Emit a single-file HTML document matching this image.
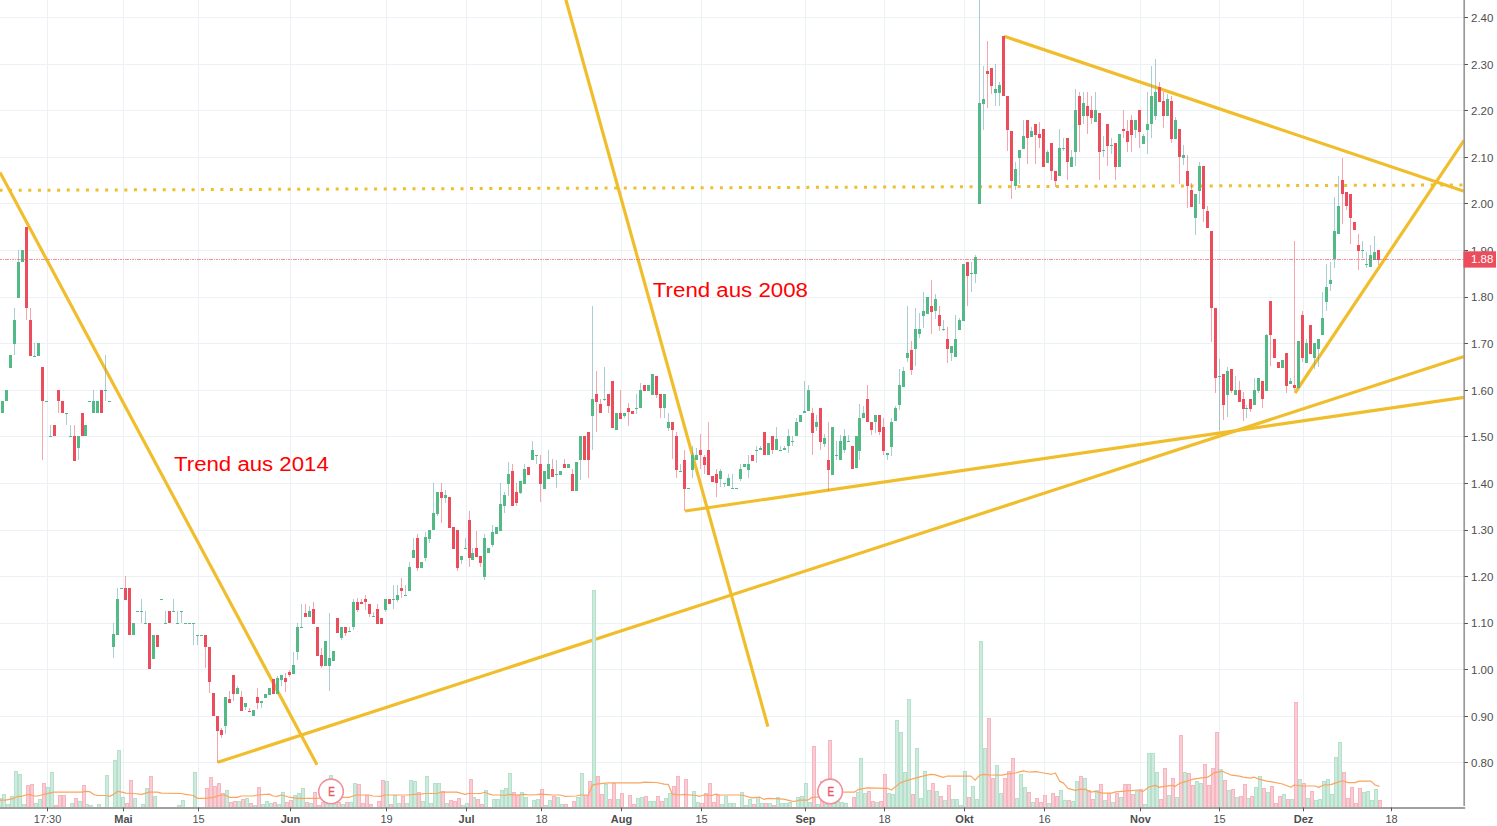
<!DOCTYPE html>
<html><head><meta charset="utf-8"><style>
html,body{margin:0;padding:0;background:#fff;width:1497px;height:826px;overflow:hidden}
svg{display:block}
.g{stroke:#ebf1f5;stroke-width:1}
text{font-family:"Liberation Sans",sans-serif}
.yl{font-size:11.5px;fill:#4e4e4e}
.xl{font-size:11px;fill:#4e4e4e}
.b{font-weight:bold}
.ann{font-size:20px;fill:#ff0000}
.em{font-size:12.8px;fill:#e85868;stroke:#e85868;stroke-width:0.45}
.pl{font-size:11.5px;fill:#fff}
</style></head><body>
<svg width="1497" height="826" viewBox="0 0 1497 826">
<defs><clipPath id="plot"><rect x="0" y="0" width="1464.4" height="807.5"/></clipPath></defs>
<line x1="47.5" y1="0" x2="47.5" y2="807.5" class="g"/>
<line x1="123.5" y1="0" x2="123.5" y2="807.5" class="g"/>
<line x1="198.5" y1="0" x2="198.5" y2="807.5" class="g"/>
<line x1="290.5" y1="0" x2="290.5" y2="807.5" class="g"/>
<line x1="386.5" y1="0" x2="386.5" y2="807.5" class="g"/>
<line x1="466.5" y1="0" x2="466.5" y2="807.5" class="g"/>
<line x1="541.5" y1="0" x2="541.5" y2="807.5" class="g"/>
<line x1="621.5" y1="0" x2="621.5" y2="807.5" class="g"/>
<line x1="701.5" y1="0" x2="701.5" y2="807.5" class="g"/>
<line x1="805.5" y1="0" x2="805.5" y2="807.5" class="g"/>
<line x1="884.5" y1="0" x2="884.5" y2="807.5" class="g"/>
<line x1="964.5" y1="0" x2="964.5" y2="807.5" class="g"/>
<line x1="1044.5" y1="0" x2="1044.5" y2="807.5" class="g"/>
<line x1="1140.5" y1="0" x2="1140.5" y2="807.5" class="g"/>
<line x1="1219.5" y1="0" x2="1219.5" y2="807.5" class="g"/>
<line x1="1303.5" y1="0" x2="1303.5" y2="807.5" class="g"/>
<line x1="1391.5" y1="0" x2="1391.5" y2="807.5" class="g"/>
<line x1="0" y1="762.5" x2="1464.4" y2="762.5" class="g"/>
<line x1="0" y1="716.5" x2="1464.4" y2="716.5" class="g"/>
<line x1="0" y1="669.5" x2="1464.4" y2="669.5" class="g"/>
<line x1="0" y1="623.5" x2="1464.4" y2="623.5" class="g"/>
<line x1="0" y1="576.5" x2="1464.4" y2="576.5" class="g"/>
<line x1="0" y1="530.5" x2="1464.4" y2="530.5" class="g"/>
<line x1="0" y1="483.5" x2="1464.4" y2="483.5" class="g"/>
<line x1="0" y1="436.5" x2="1464.4" y2="436.5" class="g"/>
<line x1="0" y1="390.5" x2="1464.4" y2="390.5" class="g"/>
<line x1="0" y1="343.5" x2="1464.4" y2="343.5" class="g"/>
<line x1="0" y1="297.5" x2="1464.4" y2="297.5" class="g"/>
<line x1="0" y1="250.5" x2="1464.4" y2="250.5" class="g"/>
<line x1="0" y1="203.5" x2="1464.4" y2="203.5" class="g"/>
<line x1="0" y1="157.5" x2="1464.4" y2="157.5" class="g"/>
<line x1="0" y1="110.5" x2="1464.4" y2="110.5" class="g"/>
<line x1="0" y1="64.5" x2="1464.4" y2="64.5" class="g"/>
<line x1="0" y1="17.5" x2="1464.4" y2="17.5" class="g"/>
<g clip-path="url(#plot)">
<line x1="0" y1="172.4" x2="317" y2="764.7" stroke="#f0be2c" stroke-width="3.2" stroke-linecap="butt"/>
<line x1="565.4" y1="-2" x2="767.9" y2="726.6" stroke="#f0be2c" stroke-width="3.2" stroke-linecap="butt"/>
<line x1="217.8" y1="762.3" x2="1464" y2="356.5" stroke="#f0be2c" stroke-width="3.2" stroke-linecap="butt"/>
<line x1="685.1" y1="511" x2="1464" y2="397.4" stroke="#f0be2c" stroke-width="3.2" stroke-linecap="butt"/>
<line x1="1004.2" y1="36.3" x2="1464" y2="191.2" stroke="#f0be2c" stroke-width="3.2" stroke-linecap="butt"/>
<line x1="1295" y1="393" x2="1464" y2="140.3" stroke="#f0be2c" stroke-width="3.2" stroke-linecap="butt"/>
<line x1="-0.5" y1="190.35" x2="1464" y2="184.95" stroke="#f0be2c" stroke-width="3" stroke-dasharray="3 6.605"/>
</g>
<g shape-rendering="crispEdges"><path fill="#cdeadc" d="M-2 798h4v9h-4zM2 794h4v13h-4zM6 804h4v3h-4zM10 796h4v11h-4zM14 771h4v36h-4zM18 774h4v33h-4zM22 804h4v3h-4zM34 803h4v4h-4zM38 799h4v8h-4zM46 787h4v20h-4zM50 772h4v35h-4zM70 803h4v4h-4zM78 801h4v6h-4zM85 804h4v3h-4zM89 805h4v2h-4zM97 804h4v3h-4zM105 775h4v32h-4zM113 760h4v47h-4zM117 750h4v57h-4zM121 797h4v10h-4zM133 798h4v9h-4zM141 804h4v3h-4zM145 788h4v19h-4zM153 796h4v11h-4zM177 805h4v2h-4zM181 800h4v7h-4zM193 772h4v35h-4zM225 790h4v17h-4zM237 801h4v6h-4zM245 798h4v9h-4zM253 805h4v2h-4zM261 804h4v3h-4zM265 801h4v6h-4zM269 803h4v4h-4zM277 804h4v3h-4zM281 792h4v15h-4zM293 795h4v12h-4zM297 793h4v14h-4zM301 788h4v19h-4zM309 803h4v4h-4zM325 804h4v3h-4zM329 775h4v32h-4zM333 804h4v3h-4zM341 804h4v3h-4zM349 802h4v5h-4zM353 783h4v24h-4zM385 781h4v26h-4zM393 795h4v12h-4zM397 803h4v4h-4zM405 803h4v4h-4zM409 780h4v27h-4zM413 781h4v26h-4zM421 801h4v6h-4zM425 776h4v31h-4zM429 803h4v4h-4zM433 783h4v24h-4zM437 783h4v24h-4zM445 803h4v4h-4zM461 805h4v2h-4zM465 803h4v4h-4zM472 797h4v10h-4zM484 790h4v17h-4zM492 799h4v8h-4zM496 799h4v8h-4zM500 790h4v17h-4zM504 788h4v19h-4zM508 773h4v34h-4zM520 792h4v15h-4zM524 797h4v10h-4zM532 800h4v7h-4zM536 799h4v8h-4zM544 805h4v2h-4zM548 800h4v7h-4zM556 797h4v10h-4zM560 804h4v3h-4zM576 797h4v10h-4zM580 773h4v34h-4zM592 590h4v217h-4zM604 784h4v23h-4zM616 799h4v8h-4zM636 798h4v9h-4zM640 797h4v10h-4zM648 801h4v6h-4zM652 801h4v6h-4zM664 798h4v9h-4zM668 793h4v14h-4zM692 791h4v16h-4zM696 802h4v5h-4zM720 804h4v3h-4zM724 796h4v11h-4zM728 803h4v4h-4zM732 803h4v4h-4zM740 792h4v15h-4zM744 805h4v2h-4zM748 799h4v8h-4zM756 797h4v10h-4zM760 803h4v4h-4zM768 803h4v4h-4zM776 797h4v10h-4zM780 803h4v4h-4zM784 803h4v4h-4zM788 802h4v5h-4zM796 797h4v10h-4zM800 796h4v11h-4zM804 783h4v24h-4zM808 802h4v5h-4zM816 804h4v3h-4zM824 804h4v3h-4zM832 803h4v4h-4zM836 801h4v6h-4zM840 802h4v5h-4zM844 803h4v4h-4zM856 792h4v15h-4zM859 758h4v49h-4zM863 793h4v14h-4zM875 802h4v5h-4zM887 793h4v14h-4zM891 794h4v13h-4zM895 720h4v87h-4zM899 732h4v75h-4zM903 772h4v35h-4zM907 699h4v108h-4zM915 748h4v59h-4zM919 798h4v9h-4zM923 771h4v36h-4zM927 790h4v17h-4zM935 791h4v16h-4zM943 800h4v7h-4zM951 799h4v8h-4zM955 799h4v8h-4zM959 805h4v2h-4zM963 771h4v36h-4zM971 786h4v21h-4zM975 799h4v8h-4zM979 641h4v166h-4zM983 748h4v59h-4zM995 765h4v42h-4zM999 793h4v14h-4zM1015 798h4v9h-4zM1019 774h4v33h-4zM1023 787h4v20h-4zM1031 802h4v5h-4zM1047 803h4v4h-4zM1059 790h4v17h-4zM1063 800h4v7h-4zM1071 801h4v6h-4zM1075 781h4v26h-4zM1083 778h4v29h-4zM1095 790h4v17h-4zM1103 800h4v7h-4zM1111 802h4v5h-4zM1119 797h4v10h-4zM1135 791h4v16h-4zM1143 804h4v3h-4zM1147 753h4v54h-4zM1151 753h4v54h-4zM1155 772h4v35h-4zM1167 795h4v12h-4zM1175 797h4v10h-4zM1183 772h4v35h-4zM1195 781h4v26h-4zM1199 783h4v24h-4zM1219 769h4v38h-4zM1227 790h4v17h-4zM1235 797h4v10h-4zM1246 798h4v9h-4zM1254 787h4v20h-4zM1258 776h4v31h-4zM1266 792h4v15h-4zM1282 794h4v13h-4zM1290 799h4v8h-4zM1298 779h4v28h-4zM1306 798h4v9h-4zM1314 800h4v7h-4zM1318 799h4v8h-4zM1322 781h4v26h-4zM1326 779h4v28h-4zM1330 794h4v13h-4zM1334 757h4v50h-4zM1338 742h4v65h-4zM1362 792h4v15h-4zM1366 791h4v16h-4zM1370 800h4v7h-4zM1374 789h4v18h-4z"/><path fill="#f9cdd3" d="M26 785h4v22h-4zM30 784h4v23h-4zM42 783h4v24h-4zM54 805h4v2h-4zM58 795h4v12h-4zM62 795h4v12h-4zM74 798h4v9h-4zM82 785h4v22h-4zM125 803h4v4h-4zM129 780h4v27h-4zM149 776h4v31h-4zM205 788h4v19h-4zM209 777h4v30h-4zM213 786h4v21h-4zM217 783h4v24h-4zM221 793h4v14h-4zM229 802h4v5h-4zM233 801h4v6h-4zM241 799h4v8h-4zM249 803h4v4h-4zM257 787h4v20h-4zM273 802h4v5h-4zM285 802h4v5h-4zM289 800h4v7h-4zM305 802h4v5h-4zM313 792h4v15h-4zM317 805h4v2h-4zM321 802h4v5h-4zM337 802h4v5h-4zM345 802h4v5h-4zM357 784h4v23h-4zM361 803h4v4h-4zM365 795h4v12h-4zM369 804h4v3h-4zM377 801h4v6h-4zM381 780h4v27h-4zM389 804h4v3h-4zM401 796h4v11h-4zM417 792h4v15h-4zM441 791h4v16h-4zM449 800h4v7h-4zM453 801h4v6h-4zM457 798h4v9h-4zM469 779h4v28h-4zM476 799h4v8h-4zM480 804h4v3h-4zM512 792h4v15h-4zM516 795h4v12h-4zM540 789h4v18h-4zM552 796h4v11h-4zM564 804h4v3h-4zM572 801h4v6h-4zM584 795h4v12h-4zM588 781h4v26h-4zM596 776h4v31h-4zM600 794h4v13h-4zM608 799h4v8h-4zM612 783h4v24h-4zM620 793h4v14h-4zM628 795h4v12h-4zM632 804h4v3h-4zM644 796h4v11h-4zM656 796h4v11h-4zM660 801h4v6h-4zM672 786h4v21h-4zM676 776h4v31h-4zM684 779h4v28h-4zM700 803h4v4h-4zM704 793h4v14h-4zM708 783h4v24h-4zM712 802h4v5h-4zM716 795h4v12h-4zM752 804h4v3h-4zM764 803h4v4h-4zM772 805h4v2h-4zM812 746h4v61h-4zM820 781h4v26h-4zM828 740h4v67h-4zM852 797h4v10h-4zM867 791h4v16h-4zM871 801h4v6h-4zM879 801h4v6h-4zM883 774h4v33h-4zM911 794h4v13h-4zM931 783h4v24h-4zM939 796h4v11h-4zM947 785h4v22h-4zM967 797h4v10h-4zM987 718h4v89h-4zM991 778h4v29h-4zM1003 778h4v29h-4zM1007 771h4v36h-4zM1011 758h4v49h-4zM1027 792h4v15h-4zM1035 798h4v9h-4zM1039 802h4v5h-4zM1043 795h4v12h-4zM1051 793h4v14h-4zM1055 796h4v11h-4zM1067 800h4v7h-4zM1079 776h4v31h-4zM1087 790h4v17h-4zM1091 799h4v8h-4zM1099 784h4v23h-4zM1107 793h4v14h-4zM1115 793h4v14h-4zM1123 784h4v23h-4zM1127 784h4v23h-4zM1131 794h4v13h-4zM1139 789h4v18h-4zM1159 799h4v8h-4zM1163 768h4v39h-4zM1171 778h4v29h-4zM1179 735h4v72h-4zM1187 773h4v34h-4zM1191 785h4v22h-4zM1203 764h4v43h-4zM1207 785h4v22h-4zM1211 768h4v39h-4zM1215 732h4v75h-4zM1223 780h4v27h-4zM1231 789h4v18h-4zM1239 796h4v11h-4zM1243 784h4v23h-4zM1250 796h4v11h-4zM1262 788h4v19h-4zM1270 786h4v21h-4zM1274 803h4v4h-4zM1278 796h4v11h-4zM1286 799h4v8h-4zM1294 702h4v105h-4zM1302 783h4v24h-4zM1310 791h4v16h-4zM1342 772h4v35h-4zM1346 798h4v9h-4zM1350 787h4v20h-4zM1354 803h4v4h-4zM1358 788h4v19h-4zM1378 800h4v7h-4z"/><path fill="#b5e0cb" d="M-2 798h4v1h-4z M-2 799h1v8h-1z M1 799h1v8h-1zM2 794h4v1h-4z M2 795h1v12h-1z M5 795h1v12h-1zM6 804h4v1h-4z M6 805h1v2h-1z M9 805h1v2h-1zM10 796h4v1h-4z M10 797h1v10h-1z M13 797h1v10h-1zM14 771h4v1h-4z M14 772h1v35h-1z M17 772h1v35h-1zM18 774h4v1h-4z M18 775h1v32h-1z M21 775h1v32h-1zM22 804h4v1h-4z M22 805h1v2h-1z M25 805h1v2h-1zM34 803h4v1h-4z M34 804h1v3h-1z M37 804h1v3h-1zM38 799h4v1h-4z M38 800h1v7h-1z M41 800h1v7h-1zM46 787h4v1h-4z M46 788h1v19h-1z M49 788h1v19h-1zM50 772h4v1h-4z M50 773h1v34h-1z M53 773h1v34h-1zM70 803h4v1h-4z M70 804h1v3h-1z M73 804h1v3h-1zM78 801h4v1h-4z M78 802h1v5h-1z M81 802h1v5h-1zM85 804h4v1h-4z M85 805h1v2h-1z M88 805h1v2h-1zM89 805h4v1h-4z M89 806h1v1h-1z M92 806h1v1h-1zM97 804h4v1h-4z M97 805h1v2h-1z M100 805h1v2h-1zM105 775h4v1h-4z M105 776h1v31h-1z M108 776h1v31h-1zM113 760h4v1h-4z M113 761h1v46h-1z M116 761h1v46h-1zM117 750h4v1h-4z M117 751h1v56h-1z M120 751h1v56h-1zM121 797h4v1h-4z M121 798h1v9h-1z M124 798h1v9h-1zM133 798h4v1h-4z M133 799h1v8h-1z M136 799h1v8h-1zM141 804h4v1h-4z M141 805h1v2h-1z M144 805h1v2h-1zM145 788h4v1h-4z M145 789h1v18h-1z M148 789h1v18h-1zM153 796h4v1h-4z M153 797h1v10h-1z M156 797h1v10h-1zM177 805h4v1h-4z M177 806h1v1h-1z M180 806h1v1h-1zM181 800h4v1h-4z M181 801h1v6h-1z M184 801h1v6h-1zM193 772h4v1h-4z M193 773h1v34h-1z M196 773h1v34h-1zM225 790h4v1h-4z M225 791h1v16h-1z M228 791h1v16h-1zM237 801h4v1h-4z M237 802h1v5h-1z M240 802h1v5h-1zM245 798h4v1h-4z M245 799h1v8h-1z M248 799h1v8h-1zM253 805h4v1h-4z M253 806h1v1h-1z M256 806h1v1h-1zM261 804h4v1h-4z M261 805h1v2h-1z M264 805h1v2h-1zM265 801h4v1h-4z M265 802h1v5h-1z M268 802h1v5h-1zM269 803h4v1h-4z M269 804h1v3h-1z M272 804h1v3h-1zM277 804h4v1h-4z M277 805h1v2h-1z M280 805h1v2h-1zM281 792h4v1h-4z M281 793h1v14h-1z M284 793h1v14h-1zM293 795h4v1h-4z M293 796h1v11h-1z M296 796h1v11h-1zM297 793h4v1h-4z M297 794h1v13h-1z M300 794h1v13h-1zM301 788h4v1h-4z M301 789h1v18h-1z M304 789h1v18h-1zM309 803h4v1h-4z M309 804h1v3h-1z M312 804h1v3h-1zM325 804h4v1h-4z M325 805h1v2h-1z M328 805h1v2h-1zM329 775h4v1h-4z M329 776h1v31h-1z M332 776h1v31h-1zM333 804h4v1h-4z M333 805h1v2h-1z M336 805h1v2h-1zM341 804h4v1h-4z M341 805h1v2h-1z M344 805h1v2h-1zM349 802h4v1h-4z M349 803h1v4h-1z M352 803h1v4h-1zM353 783h4v1h-4z M353 784h1v23h-1z M356 784h1v23h-1zM385 781h4v1h-4z M385 782h1v25h-1z M388 782h1v25h-1zM393 795h4v1h-4z M393 796h1v11h-1z M396 796h1v11h-1zM397 803h4v1h-4z M397 804h1v3h-1z M400 804h1v3h-1zM405 803h4v1h-4z M405 804h1v3h-1z M408 804h1v3h-1zM409 780h4v1h-4z M409 781h1v26h-1z M412 781h1v26h-1zM413 781h4v1h-4z M413 782h1v25h-1z M416 782h1v25h-1zM421 801h4v1h-4z M421 802h1v5h-1z M424 802h1v5h-1zM425 776h4v1h-4z M425 777h1v30h-1z M428 777h1v30h-1zM429 803h4v1h-4z M429 804h1v3h-1z M432 804h1v3h-1zM433 783h4v1h-4z M433 784h1v23h-1z M436 784h1v23h-1zM437 783h4v1h-4z M437 784h1v23h-1z M440 784h1v23h-1zM445 803h4v1h-4z M445 804h1v3h-1z M448 804h1v3h-1zM461 805h4v1h-4z M461 806h1v1h-1z M464 806h1v1h-1zM465 803h4v1h-4z M465 804h1v3h-1z M468 804h1v3h-1zM472 797h4v1h-4z M472 798h1v9h-1z M475 798h1v9h-1zM484 790h4v1h-4z M484 791h1v16h-1z M487 791h1v16h-1zM492 799h4v1h-4z M492 800h1v7h-1z M495 800h1v7h-1zM496 799h4v1h-4z M496 800h1v7h-1z M499 800h1v7h-1zM500 790h4v1h-4z M500 791h1v16h-1z M503 791h1v16h-1zM504 788h4v1h-4z M504 789h1v18h-1z M507 789h1v18h-1zM508 773h4v1h-4z M508 774h1v33h-1z M511 774h1v33h-1zM520 792h4v1h-4z M520 793h1v14h-1z M523 793h1v14h-1zM524 797h4v1h-4z M524 798h1v9h-1z M527 798h1v9h-1zM532 800h4v1h-4z M532 801h1v6h-1z M535 801h1v6h-1zM536 799h4v1h-4z M536 800h1v7h-1z M539 800h1v7h-1zM544 805h4v1h-4z M544 806h1v1h-1z M547 806h1v1h-1zM548 800h4v1h-4z M548 801h1v6h-1z M551 801h1v6h-1zM556 797h4v1h-4z M556 798h1v9h-1z M559 798h1v9h-1zM560 804h4v1h-4z M560 805h1v2h-1z M563 805h1v2h-1zM576 797h4v1h-4z M576 798h1v9h-1z M579 798h1v9h-1zM580 773h4v1h-4z M580 774h1v33h-1z M583 774h1v33h-1zM592 590h4v1h-4z M592 591h1v216h-1z M595 591h1v216h-1zM604 784h4v1h-4z M604 785h1v22h-1z M607 785h1v22h-1zM616 799h4v1h-4z M616 800h1v7h-1z M619 800h1v7h-1zM636 798h4v1h-4z M636 799h1v8h-1z M639 799h1v8h-1zM640 797h4v1h-4z M640 798h1v9h-1z M643 798h1v9h-1zM648 801h4v1h-4z M648 802h1v5h-1z M651 802h1v5h-1zM652 801h4v1h-4z M652 802h1v5h-1z M655 802h1v5h-1zM664 798h4v1h-4z M664 799h1v8h-1z M667 799h1v8h-1zM668 793h4v1h-4z M668 794h1v13h-1z M671 794h1v13h-1zM692 791h4v1h-4z M692 792h1v15h-1z M695 792h1v15h-1zM696 802h4v1h-4z M696 803h1v4h-1z M699 803h1v4h-1zM720 804h4v1h-4z M720 805h1v2h-1z M723 805h1v2h-1zM724 796h4v1h-4z M724 797h1v10h-1z M727 797h1v10h-1zM728 803h4v1h-4z M728 804h1v3h-1z M731 804h1v3h-1zM732 803h4v1h-4z M732 804h1v3h-1z M735 804h1v3h-1zM740 792h4v1h-4z M740 793h1v14h-1z M743 793h1v14h-1zM744 805h4v1h-4z M744 806h1v1h-1z M747 806h1v1h-1zM748 799h4v1h-4z M748 800h1v7h-1z M751 800h1v7h-1zM756 797h4v1h-4z M756 798h1v9h-1z M759 798h1v9h-1zM760 803h4v1h-4z M760 804h1v3h-1z M763 804h1v3h-1zM768 803h4v1h-4z M768 804h1v3h-1z M771 804h1v3h-1zM776 797h4v1h-4z M776 798h1v9h-1z M779 798h1v9h-1zM780 803h4v1h-4z M780 804h1v3h-1z M783 804h1v3h-1zM784 803h4v1h-4z M784 804h1v3h-1z M787 804h1v3h-1zM788 802h4v1h-4z M788 803h1v4h-1z M791 803h1v4h-1zM796 797h4v1h-4z M796 798h1v9h-1z M799 798h1v9h-1zM800 796h4v1h-4z M800 797h1v10h-1z M803 797h1v10h-1zM804 783h4v1h-4z M804 784h1v23h-1z M807 784h1v23h-1zM808 802h4v1h-4z M808 803h1v4h-1z M811 803h1v4h-1zM816 804h4v1h-4z M816 805h1v2h-1z M819 805h1v2h-1zM824 804h4v1h-4z M824 805h1v2h-1z M827 805h1v2h-1zM832 803h4v1h-4z M832 804h1v3h-1z M835 804h1v3h-1zM836 801h4v1h-4z M836 802h1v5h-1z M839 802h1v5h-1zM840 802h4v1h-4z M840 803h1v4h-1z M843 803h1v4h-1zM844 803h4v1h-4z M844 804h1v3h-1z M847 804h1v3h-1zM856 792h4v1h-4z M856 793h1v14h-1z M859 793h1v14h-1zM859 758h4v1h-4z M859 759h1v48h-1z M862 759h1v48h-1zM863 793h4v1h-4z M863 794h1v13h-1z M866 794h1v13h-1zM875 802h4v1h-4z M875 803h1v4h-1z M878 803h1v4h-1zM887 793h4v1h-4z M887 794h1v13h-1z M890 794h1v13h-1zM891 794h4v1h-4z M891 795h1v12h-1z M894 795h1v12h-1zM895 720h4v1h-4z M895 721h1v86h-1z M898 721h1v86h-1zM899 732h4v1h-4z M899 733h1v74h-1z M902 733h1v74h-1zM903 772h4v1h-4z M903 773h1v34h-1z M906 773h1v34h-1zM907 699h4v1h-4z M907 700h1v107h-1z M910 700h1v107h-1zM915 748h4v1h-4z M915 749h1v58h-1z M918 749h1v58h-1zM919 798h4v1h-4z M919 799h1v8h-1z M922 799h1v8h-1zM923 771h4v1h-4z M923 772h1v35h-1z M926 772h1v35h-1zM927 790h4v1h-4z M927 791h1v16h-1z M930 791h1v16h-1zM935 791h4v1h-4z M935 792h1v15h-1z M938 792h1v15h-1zM943 800h4v1h-4z M943 801h1v6h-1z M946 801h1v6h-1zM951 799h4v1h-4z M951 800h1v7h-1z M954 800h1v7h-1zM955 799h4v1h-4z M955 800h1v7h-1z M958 800h1v7h-1zM959 805h4v1h-4z M959 806h1v1h-1z M962 806h1v1h-1zM963 771h4v1h-4z M963 772h1v35h-1z M966 772h1v35h-1zM971 786h4v1h-4z M971 787h1v20h-1z M974 787h1v20h-1zM975 799h4v1h-4z M975 800h1v7h-1z M978 800h1v7h-1zM979 641h4v1h-4z M979 642h1v165h-1z M982 642h1v165h-1zM983 748h4v1h-4z M983 749h1v58h-1z M986 749h1v58h-1zM995 765h4v1h-4z M995 766h1v41h-1z M998 766h1v41h-1zM999 793h4v1h-4z M999 794h1v13h-1z M1002 794h1v13h-1zM1015 798h4v1h-4z M1015 799h1v8h-1z M1018 799h1v8h-1zM1019 774h4v1h-4z M1019 775h1v32h-1z M1022 775h1v32h-1zM1023 787h4v1h-4z M1023 788h1v19h-1z M1026 788h1v19h-1zM1031 802h4v1h-4z M1031 803h1v4h-1z M1034 803h1v4h-1zM1047 803h4v1h-4z M1047 804h1v3h-1z M1050 804h1v3h-1zM1059 790h4v1h-4z M1059 791h1v16h-1z M1062 791h1v16h-1zM1063 800h4v1h-4z M1063 801h1v6h-1z M1066 801h1v6h-1zM1071 801h4v1h-4z M1071 802h1v5h-1z M1074 802h1v5h-1zM1075 781h4v1h-4z M1075 782h1v25h-1z M1078 782h1v25h-1zM1083 778h4v1h-4z M1083 779h1v28h-1z M1086 779h1v28h-1zM1095 790h4v1h-4z M1095 791h1v16h-1z M1098 791h1v16h-1zM1103 800h4v1h-4z M1103 801h1v6h-1z M1106 801h1v6h-1zM1111 802h4v1h-4z M1111 803h1v4h-1z M1114 803h1v4h-1zM1119 797h4v1h-4z M1119 798h1v9h-1z M1122 798h1v9h-1zM1135 791h4v1h-4z M1135 792h1v15h-1z M1138 792h1v15h-1zM1143 804h4v1h-4z M1143 805h1v2h-1z M1146 805h1v2h-1zM1147 753h4v1h-4z M1147 754h1v53h-1z M1150 754h1v53h-1zM1151 753h4v1h-4z M1151 754h1v53h-1z M1154 754h1v53h-1zM1155 772h4v1h-4z M1155 773h1v34h-1z M1158 773h1v34h-1zM1167 795h4v1h-4z M1167 796h1v11h-1z M1170 796h1v11h-1zM1175 797h4v1h-4z M1175 798h1v9h-1z M1178 798h1v9h-1zM1183 772h4v1h-4z M1183 773h1v34h-1z M1186 773h1v34h-1zM1195 781h4v1h-4z M1195 782h1v25h-1z M1198 782h1v25h-1zM1199 783h4v1h-4z M1199 784h1v23h-1z M1202 784h1v23h-1zM1219 769h4v1h-4z M1219 770h1v37h-1z M1222 770h1v37h-1zM1227 790h4v1h-4z M1227 791h1v16h-1z M1230 791h1v16h-1zM1235 797h4v1h-4z M1235 798h1v9h-1z M1238 798h1v9h-1zM1246 798h4v1h-4z M1246 799h1v8h-1z M1249 799h1v8h-1zM1254 787h4v1h-4z M1254 788h1v19h-1z M1257 788h1v19h-1zM1258 776h4v1h-4z M1258 777h1v30h-1z M1261 777h1v30h-1zM1266 792h4v1h-4z M1266 793h1v14h-1z M1269 793h1v14h-1zM1282 794h4v1h-4z M1282 795h1v12h-1z M1285 795h1v12h-1zM1290 799h4v1h-4z M1290 800h1v7h-1z M1293 800h1v7h-1zM1298 779h4v1h-4z M1298 780h1v27h-1z M1301 780h1v27h-1zM1306 798h4v1h-4z M1306 799h1v8h-1z M1309 799h1v8h-1zM1314 800h4v1h-4z M1314 801h1v6h-1z M1317 801h1v6h-1zM1318 799h4v1h-4z M1318 800h1v7h-1z M1321 800h1v7h-1zM1322 781h4v1h-4z M1322 782h1v25h-1z M1325 782h1v25h-1zM1326 779h4v1h-4z M1326 780h1v27h-1z M1329 780h1v27h-1zM1330 794h4v1h-4z M1330 795h1v12h-1z M1333 795h1v12h-1zM1334 757h4v1h-4z M1334 758h1v49h-1z M1337 758h1v49h-1zM1338 742h4v1h-4z M1338 743h1v64h-1z M1341 743h1v64h-1zM1362 792h4v1h-4z M1362 793h1v14h-1z M1365 793h1v14h-1zM1366 791h4v1h-4z M1366 792h1v15h-1z M1369 792h1v15h-1zM1370 800h4v1h-4z M1370 801h1v6h-1z M1373 801h1v6h-1zM1374 789h4v1h-4z M1374 790h1v17h-1z M1377 790h1v17h-1z"/><path fill="#f6b6bf" d="M26 785h4v1h-4z M26 786h1v21h-1z M29 786h1v21h-1zM30 784h4v1h-4z M30 785h1v22h-1z M33 785h1v22h-1zM42 783h4v1h-4z M42 784h1v23h-1z M45 784h1v23h-1zM54 805h4v1h-4z M54 806h1v1h-1z M57 806h1v1h-1zM58 795h4v1h-4z M58 796h1v11h-1z M61 796h1v11h-1zM62 795h4v1h-4z M62 796h1v11h-1z M65 796h1v11h-1zM74 798h4v1h-4z M74 799h1v8h-1z M77 799h1v8h-1zM82 785h4v1h-4z M82 786h1v21h-1z M85 786h1v21h-1zM125 803h4v1h-4z M125 804h1v3h-1z M128 804h1v3h-1zM129 780h4v1h-4z M129 781h1v26h-1z M132 781h1v26h-1zM149 776h4v1h-4z M149 777h1v30h-1z M152 777h1v30h-1zM205 788h4v1h-4z M205 789h1v18h-1z M208 789h1v18h-1zM209 777h4v1h-4z M209 778h1v29h-1z M212 778h1v29h-1zM213 786h4v1h-4z M213 787h1v20h-1z M216 787h1v20h-1zM217 783h4v1h-4z M217 784h1v23h-1z M220 784h1v23h-1zM221 793h4v1h-4z M221 794h1v13h-1z M224 794h1v13h-1zM229 802h4v1h-4z M229 803h1v4h-1z M232 803h1v4h-1zM233 801h4v1h-4z M233 802h1v5h-1z M236 802h1v5h-1zM241 799h4v1h-4z M241 800h1v7h-1z M244 800h1v7h-1zM249 803h4v1h-4z M249 804h1v3h-1z M252 804h1v3h-1zM257 787h4v1h-4z M257 788h1v19h-1z M260 788h1v19h-1zM273 802h4v1h-4z M273 803h1v4h-1z M276 803h1v4h-1zM285 802h4v1h-4z M285 803h1v4h-1z M288 803h1v4h-1zM289 800h4v1h-4z M289 801h1v6h-1z M292 801h1v6h-1zM305 802h4v1h-4z M305 803h1v4h-1z M308 803h1v4h-1zM313 792h4v1h-4z M313 793h1v14h-1z M316 793h1v14h-1zM317 805h4v1h-4z M317 806h1v1h-1z M320 806h1v1h-1zM321 802h4v1h-4z M321 803h1v4h-1z M324 803h1v4h-1zM337 802h4v1h-4z M337 803h1v4h-1z M340 803h1v4h-1zM345 802h4v1h-4z M345 803h1v4h-1z M348 803h1v4h-1zM357 784h4v1h-4z M357 785h1v22h-1z M360 785h1v22h-1zM361 803h4v1h-4z M361 804h1v3h-1z M364 804h1v3h-1zM365 795h4v1h-4z M365 796h1v11h-1z M368 796h1v11h-1zM369 804h4v1h-4z M369 805h1v2h-1z M372 805h1v2h-1zM377 801h4v1h-4z M377 802h1v5h-1z M380 802h1v5h-1zM381 780h4v1h-4z M381 781h1v26h-1z M384 781h1v26h-1zM389 804h4v1h-4z M389 805h1v2h-1z M392 805h1v2h-1zM401 796h4v1h-4z M401 797h1v10h-1z M404 797h1v10h-1zM417 792h4v1h-4z M417 793h1v14h-1z M420 793h1v14h-1zM441 791h4v1h-4z M441 792h1v15h-1z M444 792h1v15h-1zM449 800h4v1h-4z M449 801h1v6h-1z M452 801h1v6h-1zM453 801h4v1h-4z M453 802h1v5h-1z M456 802h1v5h-1zM457 798h4v1h-4z M457 799h1v8h-1z M460 799h1v8h-1zM469 779h4v1h-4z M469 780h1v27h-1z M472 780h1v27h-1zM476 799h4v1h-4z M476 800h1v7h-1z M479 800h1v7h-1zM480 804h4v1h-4z M480 805h1v2h-1z M483 805h1v2h-1zM512 792h4v1h-4z M512 793h1v14h-1z M515 793h1v14h-1zM516 795h4v1h-4z M516 796h1v11h-1z M519 796h1v11h-1zM540 789h4v1h-4z M540 790h1v17h-1z M543 790h1v17h-1zM552 796h4v1h-4z M552 797h1v10h-1z M555 797h1v10h-1zM564 804h4v1h-4z M564 805h1v2h-1z M567 805h1v2h-1zM572 801h4v1h-4z M572 802h1v5h-1z M575 802h1v5h-1zM584 795h4v1h-4z M584 796h1v11h-1z M587 796h1v11h-1zM588 781h4v1h-4z M588 782h1v25h-1z M591 782h1v25h-1zM596 776h4v1h-4z M596 777h1v30h-1z M599 777h1v30h-1zM600 794h4v1h-4z M600 795h1v12h-1z M603 795h1v12h-1zM608 799h4v1h-4z M608 800h1v7h-1z M611 800h1v7h-1zM612 783h4v1h-4z M612 784h1v23h-1z M615 784h1v23h-1zM620 793h4v1h-4z M620 794h1v13h-1z M623 794h1v13h-1zM628 795h4v1h-4z M628 796h1v11h-1z M631 796h1v11h-1zM632 804h4v1h-4z M632 805h1v2h-1z M635 805h1v2h-1zM644 796h4v1h-4z M644 797h1v10h-1z M647 797h1v10h-1zM656 796h4v1h-4z M656 797h1v10h-1z M659 797h1v10h-1zM660 801h4v1h-4z M660 802h1v5h-1z M663 802h1v5h-1zM672 786h4v1h-4z M672 787h1v20h-1z M675 787h1v20h-1zM676 776h4v1h-4z M676 777h1v30h-1z M679 777h1v30h-1zM684 779h4v1h-4z M684 780h1v27h-1z M687 780h1v27h-1zM700 803h4v1h-4z M700 804h1v3h-1z M703 804h1v3h-1zM704 793h4v1h-4z M704 794h1v13h-1z M707 794h1v13h-1zM708 783h4v1h-4z M708 784h1v23h-1z M711 784h1v23h-1zM712 802h4v1h-4z M712 803h1v4h-1z M715 803h1v4h-1zM716 795h4v1h-4z M716 796h1v11h-1z M719 796h1v11h-1zM752 804h4v1h-4z M752 805h1v2h-1z M755 805h1v2h-1zM764 803h4v1h-4z M764 804h1v3h-1z M767 804h1v3h-1zM772 805h4v1h-4z M772 806h1v1h-1z M775 806h1v1h-1zM812 746h4v1h-4z M812 747h1v60h-1z M815 747h1v60h-1zM820 781h4v1h-4z M820 782h1v25h-1z M823 782h1v25h-1zM828 740h4v1h-4z M828 741h1v66h-1z M831 741h1v66h-1zM852 797h4v1h-4z M852 798h1v9h-1z M855 798h1v9h-1zM867 791h4v1h-4z M867 792h1v15h-1z M870 792h1v15h-1zM871 801h4v1h-4z M871 802h1v5h-1z M874 802h1v5h-1zM879 801h4v1h-4z M879 802h1v5h-1z M882 802h1v5h-1zM883 774h4v1h-4z M883 775h1v32h-1z M886 775h1v32h-1zM911 794h4v1h-4z M911 795h1v12h-1z M914 795h1v12h-1zM931 783h4v1h-4z M931 784h1v23h-1z M934 784h1v23h-1zM939 796h4v1h-4z M939 797h1v10h-1z M942 797h1v10h-1zM947 785h4v1h-4z M947 786h1v21h-1z M950 786h1v21h-1zM967 797h4v1h-4z M967 798h1v9h-1z M970 798h1v9h-1zM987 718h4v1h-4z M987 719h1v88h-1z M990 719h1v88h-1zM991 778h4v1h-4z M991 779h1v28h-1z M994 779h1v28h-1zM1003 778h4v1h-4z M1003 779h1v28h-1z M1006 779h1v28h-1zM1007 771h4v1h-4z M1007 772h1v35h-1z M1010 772h1v35h-1zM1011 758h4v1h-4z M1011 759h1v48h-1z M1014 759h1v48h-1zM1027 792h4v1h-4z M1027 793h1v14h-1z M1030 793h1v14h-1zM1035 798h4v1h-4z M1035 799h1v8h-1z M1038 799h1v8h-1zM1039 802h4v1h-4z M1039 803h1v4h-1z M1042 803h1v4h-1zM1043 795h4v1h-4z M1043 796h1v11h-1z M1046 796h1v11h-1zM1051 793h4v1h-4z M1051 794h1v13h-1z M1054 794h1v13h-1zM1055 796h4v1h-4z M1055 797h1v10h-1z M1058 797h1v10h-1zM1067 800h4v1h-4z M1067 801h1v6h-1z M1070 801h1v6h-1zM1079 776h4v1h-4z M1079 777h1v30h-1z M1082 777h1v30h-1zM1087 790h4v1h-4z M1087 791h1v16h-1z M1090 791h1v16h-1zM1091 799h4v1h-4z M1091 800h1v7h-1z M1094 800h1v7h-1zM1099 784h4v1h-4z M1099 785h1v22h-1z M1102 785h1v22h-1zM1107 793h4v1h-4z M1107 794h1v13h-1z M1110 794h1v13h-1zM1115 793h4v1h-4z M1115 794h1v13h-1z M1118 794h1v13h-1zM1123 784h4v1h-4z M1123 785h1v22h-1z M1126 785h1v22h-1zM1127 784h4v1h-4z M1127 785h1v22h-1z M1130 785h1v22h-1zM1131 794h4v1h-4z M1131 795h1v12h-1z M1134 795h1v12h-1zM1139 789h4v1h-4z M1139 790h1v17h-1z M1142 790h1v17h-1zM1159 799h4v1h-4z M1159 800h1v7h-1z M1162 800h1v7h-1zM1163 768h4v1h-4z M1163 769h1v38h-1z M1166 769h1v38h-1zM1171 778h4v1h-4z M1171 779h1v28h-1z M1174 779h1v28h-1zM1179 735h4v1h-4z M1179 736h1v71h-1z M1182 736h1v71h-1zM1187 773h4v1h-4z M1187 774h1v33h-1z M1190 774h1v33h-1zM1191 785h4v1h-4z M1191 786h1v21h-1z M1194 786h1v21h-1zM1203 764h4v1h-4z M1203 765h1v42h-1z M1206 765h1v42h-1zM1207 785h4v1h-4z M1207 786h1v21h-1z M1210 786h1v21h-1zM1211 768h4v1h-4z M1211 769h1v38h-1z M1214 769h1v38h-1zM1215 732h4v1h-4z M1215 733h1v74h-1z M1218 733h1v74h-1zM1223 780h4v1h-4z M1223 781h1v26h-1z M1226 781h1v26h-1zM1231 789h4v1h-4z M1231 790h1v17h-1z M1234 790h1v17h-1zM1239 796h4v1h-4z M1239 797h1v10h-1z M1242 797h1v10h-1zM1243 784h4v1h-4z M1243 785h1v22h-1z M1246 785h1v22h-1zM1250 796h4v1h-4z M1250 797h1v10h-1z M1253 797h1v10h-1zM1262 788h4v1h-4z M1262 789h1v18h-1z M1265 789h1v18h-1zM1270 786h4v1h-4z M1270 787h1v20h-1z M1273 787h1v20h-1zM1274 803h4v1h-4z M1274 804h1v3h-1z M1277 804h1v3h-1zM1278 796h4v1h-4z M1278 797h1v10h-1z M1281 797h1v10h-1zM1286 799h4v1h-4z M1286 800h1v7h-1z M1289 800h1v7h-1zM1294 702h4v1h-4z M1294 703h1v104h-1z M1297 703h1v104h-1zM1302 783h4v1h-4z M1302 784h1v23h-1z M1305 784h1v23h-1zM1310 791h4v1h-4z M1310 792h1v15h-1z M1313 792h1v15h-1zM1342 772h4v1h-4z M1342 773h1v34h-1z M1345 773h1v34h-1zM1346 798h4v1h-4z M1346 799h1v8h-1z M1349 799h1v8h-1zM1350 787h4v1h-4z M1350 788h1v19h-1z M1353 788h1v19h-1zM1354 803h4v1h-4z M1354 804h1v3h-1z M1357 804h1v3h-1zM1358 788h4v1h-4z M1358 789h1v18h-1z M1361 789h1v18h-1zM1378 800h4v1h-4z M1378 801h1v6h-1z M1381 801h1v6h-1z"/></g><path d="M0.0 800.2 L5.6 800.2 L14.0 798.3 L17.8 796.3 L21.8 796.3 L25.7 795.0 L29.7 794.4 L33.7 796.0 L37.9 796.0 L41.6 795.0 L45.8 793.8 L53.8 792.2 L81.9 792.2 L85.9 791.3 L89.8 791.7 L93.8 794.6 L97.8 795.5 L105.7 795.5 L109.9 796.3 L113.9 794.1 L117.8 791.3 L121.9 792.2 L125.8 793.2 L133.8 793.5 L141.6 794.4 L149.5 792.2 L157.4 792.2 L161.4 793.2 L181.4 793.5 L185.4 794.4 L193.3 795.5 L197.4 798.3 L205.3 798.3 L213.3 797.4 L221.3 795.0 L225.2 795.0 L229.5 797.4 L237.2 797.4 L241.2 796.0 L253.2 796.0 L257.2 795.0 L269.2 794.1 L273.1 796.0 L277.1 796.4 L281.2 795.0 L285.1 796.0 L289.1 797.2 L297.1 798.3 L317.1 798.3 L321.0 798.1 L341.0 797.4 L349.0 797.4 L353.0 796.0 L356.9 795.0 L368.9 795.0 L372.9 796.0 L380.9 796.3 L384.9 795.0 L408.9 795.0 L412.9 794.4 L420.8 794.1 L424.8 793.5 L436.7 793.5 L440.7 792.2 L456.7 792.2 L460.8 793.2 L464.7 794.4 L468.7 793.5 L480.7 793.5 L484.7 792.2 L488.6 793.8 L492.7 795.0 L500.6 795.0 L504.6 795.5 L508.7 794.4 L516.6 795.0 L524.6 794.4 L528.6 795.0 L536.6 794.6 L540.6 794.1 L548.0 794.6 L552.4 795.0 L560.5 795.0 L564.4 796.3 L576.4 796.0 L580.4 795.0 L588.3 795.0 L592.4 785.2 L596.4 784.1 L608.4 782.9 L640.3 782.9 L644.3 782.2 L656.3 782.5 L664.2 784.1 L668.2 784.3 L672.2 794.1 L680.2 795.0 L684.0 794.4 L696.0 795.5 L699.9 796.3 L703.9 795.0 L711.9 795.5 L715.9 794.1 L719.9 795.0 L739.9 795.0 L743.9 795.5 L751.8 797.9 L759.8 797.2 L763.8 799.3 L767.8 798.3 L783.7 799.1 L791.8 801.1 L795.7 801.3 L799.7 800.0 L807.7 800.2 L811.7 797.4 L820.0 796.9 L843.1 792.1 L854.6 792.1 L858.9 789.3 L867.4 787.9 L887.4 788.3 L891.4 790.0 L900.3 782.9 L907.4 780.3 L918.9 777.1 L930.3 774.3 L934.6 774.6 L943.1 777.4 L947.4 776.0 L970.9 776.1 L975.1 780.1 L979.8 775.2 L984.0 774.3 L989.2 774.8 L1002.3 775.2 L1007.6 773.9 L1015.4 773.0 L1023.3 770.9 L1028.5 772.0 L1036.0 771.7 L1043.8 773.0 L1051.7 774.3 L1055.4 773.0 L1059.5 781.1 L1063.5 783.1 L1068.0 788.3 L1075.2 790.3 L1080.5 789.2 L1085.7 789.4 L1091.0 792.2 L1094.9 791.3 L1102.7 793.1 L1111.2 793.1 L1115.8 791.8 L1127.8 790.9 L1138.3 790.0 L1142.9 791.6 L1148.8 787.0 L1155.3 785.3 L1159.2 787.4 L1164.5 786.3 L1172.3 785.3 L1174.9 786.6 L1180.2 783.1 L1188.0 780.8 L1193.3 779.1 L1203.7 777.6 L1207.9 777.2 L1214.5 772.6 L1222.3 771.3 L1231.5 775.2 L1239.3 776.1 L1243.2 777.2 L1250.4 778.2 L1254.4 777.2 L1258.9 779.1 L1266.8 781.1 L1272.0 781.8 L1282.5 784.0 L1290.9 787.2 L1294.4 785.0 L1302.3 786.0 L1315.1 786.0 L1318.7 787.4 L1323.7 785.0 L1330.9 784.6 L1335.1 783.1 L1342.3 780.7 L1348.0 782.6 L1355.1 782.6 L1359.4 781.1 L1370.9 781.1 L1375.1 785.0 L1379.4 786.4" fill="none" stroke="#f9a55f" stroke-width="1.2" stroke-linejoin="round"/>
<g shape-rendering="crispEdges"><path fill="rgba(88,158,166,0.5)" d="M14 308h1v12h-1zM14 344h1v11h-1zM18 250h1v12h-1zM34 343h1v13h-1zM50 425h1v11h-1zM66 414h1v11h-1zM70 425h1v11h-1zM78 448h1v12h-1zM93 390h1v11h-1zM105 355h1v35h-1zM105 391h1v10h-1zM113 623h1v11h-1zM113 647h1v11h-1zM117 588h1v11h-1zM141 599h1v12h-1zM141 612h1v11h-1zM145 611h1v12h-1zM165 611h1v12h-1zM173 599h1v12h-1zM177 611h1v12h-1zM181 612h1v11h-1zM193 624h1v21h-1zM197 636h1v9h-1zM225 726h1v8h-1zM237 686h1v2h-1zM245 707h1v3h-1zM261 703h1v5h-1zM277 676h1v2h-1zM281 680h1v6h-1zM293 652h1v13h-1zM297 623h1v4h-1zM297 652h1v8h-1zM301 604h1v23h-1zM309 606h1v5h-1zM329 613h1v45h-1zM329 666h1v25h-1zM341 638h1v2h-1zM349 627h1v4h-1zM353 599h1v3h-1zM353 627h1v3h-1zM373 612h1v4h-1zM385 610h1v2h-1zM393 585h1v14h-1zM393 600h1v9h-1zM397 585h1v10h-1zM397 600h1v2h-1zM405 585h1v10h-1zM409 562h1v5h-1zM413 538h1v12h-1zM425 532h1v5h-1zM425 558h1v3h-1zM429 539h1v4h-1zM433 483h1v30h-1zM437 514h1v2h-1zM445 490h1v5h-1zM445 498h1v5h-1zM461 560h1v4h-1zM465 538h1v10h-1zM472 548h1v5h-1zM484 534h1v4h-1zM484 577h1v3h-1zM492 525h1v7h-1zM492 545h1v2h-1zM500 483h1v21h-1zM504 492h1v3h-1zM504 506h1v7h-1zM508 462h1v12h-1zM508 484h1v12h-1zM520 493h1v1h-1zM524 464h1v5h-1zM532 441h1v9h-1zM536 456h1v8h-1zM548 450h1v14h-1zM556 460h1v14h-1zM556 475h1v13h-1zM580 460h1v20h-1zM592 306h1v93h-1zM592 416h1v34h-1zM604 367h1v32h-1zM604 400h1v1h-1zM624 416h1v2h-1zM636 394h1v14h-1zM636 409h1v5h-1zM640 383h1v7h-1zM664 408h1v10h-1zM668 413h1v9h-1zM668 428h1v3h-1zM680 464h1v7h-1zM692 446h1v9h-1zM692 470h1v8h-1zM696 448h1v7h-1zM720 469h1v2h-1zM720 479h1v8h-1zM724 484h1v3h-1zM728 474h1v4h-1zM732 474h1v14h-1zM740 464h1v5h-1zM740 479h1v2h-1zM748 455h1v9h-1zM748 470h1v8h-1zM756 446h1v4h-1zM756 451h1v12h-1zM760 446h1v2h-1zM776 427h1v12h-1zM780 446h1v4h-1zM784 446h1v2h-1zM788 429h1v7h-1zM788 446h1v7h-1zM792 436h1v5h-1zM792 442h1v4h-1zM796 418h1v4h-1zM804 381h1v30h-1zM808 385h1v5h-1zM816 415h1v7h-1zM816 427h1v4h-1zM824 434h1v4h-1zM824 444h1v3h-1zM836 441h1v14h-1zM836 456h1v4h-1zM840 435h1v6h-1zM844 429h1v7h-1zM844 450h1v3h-1zM848 435h1v6h-1zM859 404h1v14h-1zM859 451h1v9h-1zM863 406h1v7h-1zM875 422h1v11h-1zM887 455h1v5h-1zM891 418h1v4h-1zM891 447h1v9h-1zM895 406h1v2h-1zM899 369h1v16h-1zM899 405h1v5h-1zM903 367h1v4h-1zM907 306h1v47h-1zM907 358h1v4h-1zM915 308h1v21h-1zM915 349h1v17h-1zM919 313h1v16h-1zM919 334h1v4h-1zM923 292h1v19h-1zM923 316h1v12h-1zM935 294h1v5h-1zM935 311h1v8h-1zM943 320h1v9h-1zM943 330h1v1h-1zM951 353h1v8h-1zM955 315h1v24h-1zM959 318h1v2h-1zM971 262h1v11h-1zM971 274h1v18h-1zM975 255h1v2h-1zM975 274h1v9h-1zM979 -2h1v105h-1zM983 66h1v33h-1zM983 104h1v26h-1zM995 64h1v25h-1zM995 93h1v13h-1zM999 82h1v3h-1zM999 93h1v13h-1zM1015 162h1v7h-1zM1015 186h1v4h-1zM1019 158h1v26h-1zM1023 120h1v16h-1zM1031 127h1v4h-1zM1047 150h1v2h-1zM1059 129h1v19h-1zM1063 138h1v10h-1zM1063 149h1v2h-1zM1071 150h1v7h-1zM1075 89h1v21h-1zM1075 152h1v14h-1zM1083 92h1v11h-1zM1083 116h1v8h-1zM1095 92h1v18h-1zM1103 136h1v14h-1zM1103 151h1v6h-1zM1111 138h1v7h-1zM1111 146h1v8h-1zM1135 130h1v8h-1zM1143 134h1v2h-1zM1147 92h1v32h-1zM1147 130h1v24h-1zM1151 66h1v30h-1zM1151 124h1v14h-1zM1155 59h1v33h-1zM1155 116h1v4h-1zM1167 94h1v5h-1zM1175 117h1v3h-1zM1183 145h1v10h-1zM1183 158h1v7h-1zM1195 218h1v17h-1zM1199 162h1v4h-1zM1199 191h1v13h-1zM1219 359h1v17h-1zM1219 377h1v54h-1zM1227 367h1v4h-1zM1227 395h1v22h-1zM1235 376h1v14h-1zM1246 405h1v3h-1zM1246 409h1v9h-1zM1254 378h1v12h-1zM1258 391h1v2h-1zM1266 334h1v1h-1zM1290 378h1v3h-1zM1306 339h1v4h-1zM1314 358h1v11h-1zM1318 349h1v18h-1zM1322 292h1v26h-1zM1326 264h1v23h-1zM1326 302h1v9h-1zM1330 262h1v18h-1zM1330 284h1v7h-1zM1334 197h1v34h-1zM1334 259h1v9h-1zM1338 176h1v30h-1zM1362 241h1v9h-1zM1362 251h1v7h-1zM1366 252h1v12h-1zM1366 265h1v3h-1zM1370 245h1v10h-1zM1374 236h1v16h-1z"/><path fill="rgba(235,77,92,0.5)" d="M26 308h1v12h-1zM30 308h1v12h-1zM42 401h1v59h-1zM58 401h1v12h-1zM74 425h1v11h-1zM125 576h1v12h-1zM205 647h1v21h-1zM209 682h1v11h-1zM217 731h1v32h-1zM221 728h1v2h-1zM221 735h1v3h-1zM229 691h1v8h-1zM233 694h1v7h-1zM241 691h1v6h-1zM249 708h1v3h-1zM257 688h1v9h-1zM257 703h1v6h-1zM285 673h1v5h-1zM285 682h1v10h-1zM289 670h1v2h-1zM289 675h1v2h-1zM305 604h1v9h-1zM313 602h1v7h-1zM321 648h1v7h-1zM321 666h1v2h-1zM345 633h1v3h-1zM357 598h1v4h-1zM357 610h1v2h-1zM361 599h1v3h-1zM365 595h1v4h-1zM365 602h1v8h-1zM369 614h1v3h-1zM377 604h1v5h-1zM401 578h1v10h-1zM401 591h1v7h-1zM417 534h1v4h-1zM417 568h1v3h-1zM441 483h1v9h-1zM441 498h1v25h-1zM457 568h1v3h-1zM469 511h1v9h-1zM469 558h1v9h-1zM476 531h1v17h-1zM480 563h1v4h-1zM512 464h1v7h-1zM516 483h1v9h-1zM516 503h1v3h-1zM540 455h1v9h-1zM540 484h1v18h-1zM552 459h1v10h-1zM564 459h1v5h-1zM572 469h1v5h-1zM588 460h1v18h-1zM596 371h1v23h-1zM596 402h1v30h-1zM600 399h1v5h-1zM608 406h1v7h-1zM620 390h1v23h-1zM628 403h1v5h-1zM628 412h1v14h-1zM656 395h1v3h-1zM660 408h1v10h-1zM672 430h1v29h-1zM676 432h1v4h-1zM676 470h1v8h-1zM684 450h1v10h-1zM684 489h1v22h-1zM700 434h1v16h-1zM700 455h1v14h-1zM704 455h1v2h-1zM704 465h1v9h-1zM708 422h1v28h-1zM716 469h1v5h-1zM716 483h1v14h-1zM772 450h1v4h-1zM812 408h1v5h-1zM812 433h1v22h-1zM820 442h1v8h-1zM828 422h1v38h-1zM828 470h1v21h-1zM867 385h1v14h-1zM871 430h1v5h-1zM879 432h1v3h-1zM883 418h1v9h-1zM883 451h1v4h-1zM911 341h1v9h-1zM911 370h1v5h-1zM931 280h1v26h-1zM931 312h1v22h-1zM939 306h1v9h-1zM939 326h1v5h-1zM947 327h1v12h-1zM947 349h1v14h-1zM967 276h1v30h-1zM987 41h1v30h-1zM987 74h1v34h-1zM991 86h1v8h-1zM1007 130h1v21h-1zM1011 181h1v18h-1zM1027 138h1v26h-1zM1035 135h1v29h-1zM1039 122h1v12h-1zM1039 138h1v10h-1zM1051 171h1v9h-1zM1055 181h1v6h-1zM1067 162h1v18h-1zM1079 92h1v4h-1zM1079 125h1v27h-1zM1087 92h1v14h-1zM1087 116h1v18h-1zM1091 96h1v14h-1zM1091 118h1v6h-1zM1099 152h1v28h-1zM1107 146h1v20h-1zM1115 167h1v13h-1zM1123 110h1v19h-1zM1123 131h1v7h-1zM1127 120h1v11h-1zM1127 142h1v10h-1zM1131 115h1v5h-1zM1131 135h1v17h-1zM1139 132h1v16h-1zM1159 82h1v5h-1zM1163 92h1v9h-1zM1163 116h1v12h-1zM1171 96h1v5h-1zM1171 139h1v4h-1zM1179 157h1v27h-1zM1187 155h1v16h-1zM1187 186h1v22h-1zM1191 183h1v7h-1zM1203 209h1v13h-1zM1207 206h1v5h-1zM1211 308h1v34h-1zM1215 378h1v15h-1zM1223 405h1v15h-1zM1231 391h1v2h-1zM1239 381h1v9h-1zM1243 392h1v7h-1zM1243 409h1v12h-1zM1250 409h1v3h-1zM1262 399h1v9h-1zM1270 335h1v31h-1zM1286 386h1v7h-1zM1294 241h1v144h-1zM1294 388h1v2h-1zM1302 311h1v4h-1zM1302 358h1v4h-1zM1342 158h1v22h-1zM1342 194h1v30h-1zM1346 206h1v4h-1zM1350 218h1v26h-1zM1358 234h1v11h-1zM1358 251h1v19h-1zM1378 260h1v5h-1z"/><path fill="#53b987" d="M1 401h3v12h-3zM5 390h3v11h-3zM9 355h3v13h-3zM13 320h3v24h-3zM17 262h3v36h-3zM21 250h3v12h-3zM33 356h3v1h-3zM37 343h3v13h-3zM45 401h3v1h-3zM49 436h3v1h-3zM65 413h3v1h-3zM69 436h3v1h-3zM77 436h3v12h-3zM84 425h3v11h-3zM88 401h3v1h-3zM92 401h3v12h-3zM96 401h3v12h-3zM104 390h3v1h-3zM108 401h3v1h-3zM112 634h3v13h-3zM116 599h3v36h-3zM120 588h3v1h-3zM132 623h3v12h-3zM136 611h3v1h-3zM140 611h3v1h-3zM144 623h3v1h-3zM152 635h3v24h-3zM160 599h3v1h-3zM164 623h3v1h-3zM172 611h3v1h-3zM176 623h3v1h-3zM180 611h3v1h-3zM184 623h3v1h-3zM188 623h3v1h-3zM192 623h3v1h-3zM196 635h3v1h-3zM200 635h3v1h-3zM224 697h3v29h-3zM236 688h3v6h-3zM244 703h3v4h-3zM252 710h3v6h-3zM260 701h3v2h-3zM264 694h3v4h-3zM268 688h3v7h-3zM276 678h3v16h-3zM280 675h3v5h-3zM292 665h3v9h-3zM296 627h3v25h-3zM300 627h3v1h-3zM308 611h3v6h-3zM324 641h3v25h-3zM328 658h3v8h-3zM332 651h3v10h-3zM340 627h3v11h-3zM348 631h3v1h-3zM352 602h3v25h-3zM372 616h3v1h-3zM384 599h3v11h-3zM392 599h3v1h-3zM396 595h3v5h-3zM404 595h3v1h-3zM408 567h3v24h-3zM412 550h3v8h-3zM420 562h3v6h-3zM424 537h3v21h-3zM428 530h3v9h-3zM432 513h3v17h-3zM436 492h3v22h-3zM444 495h3v3h-3zM460 556h3v4h-3zM464 548h3v1h-3zM471 553h3v7h-3zM483 538h3v39h-3zM487 548h3v5h-3zM491 532h3v13h-3zM495 527h3v7h-3zM499 504h3v27h-3zM503 495h3v11h-3zM507 474h3v10h-3zM519 481h3v12h-3zM523 469h3v15h-3zM531 450h3v10h-3zM535 455h3v1h-3zM543 471h3v18h-3zM547 464h3v15h-3zM555 474h3v1h-3zM559 471h3v4h-3zM567 464h3v4h-3zM575 462h3v29h-3zM579 436h3v24h-3zM591 399h3v17h-3zM603 399h3v1h-3zM615 413h3v17h-3zM623 413h3v3h-3zM635 408h3v1h-3zM639 390h3v18h-3zM647 385h3v6h-3zM651 374h3v21h-3zM663 394h3v14h-3zM667 422h3v6h-3zM679 471h3v1h-3zM687 488h3v1h-3zM691 455h3v15h-3zM695 455h3v5h-3zM719 471h3v8h-3zM723 483h3v1h-3zM727 478h3v8h-3zM731 488h3v1h-3zM735 488h3v1h-3zM739 469h3v10h-3zM743 464h3v3h-3zM747 464h3v6h-3zM755 450h3v1h-3zM759 448h3v2h-3zM767 443h3v12h-3zM775 439h3v11h-3zM779 450h3v1h-3zM783 448h3v2h-3zM787 436h3v10h-3zM791 441h3v1h-3zM795 422h3v14h-3zM799 415h3v7h-3zM803 411h3v2h-3zM807 390h3v21h-3zM815 422h3v5h-3zM823 438h3v6h-3zM831 427h3v48h-3zM835 455h3v1h-3zM839 441h3v19h-3zM843 436h3v14h-3zM847 441h3v1h-3zM855 436h3v32h-3zM858 418h3v33h-3zM862 413h3v5h-3zM874 415h3v7h-3zM886 453h3v2h-3zM890 422h3v25h-3zM894 408h3v13h-3zM898 385h3v20h-3zM902 371h3v16h-3zM906 353h3v5h-3zM914 329h3v20h-3zM918 329h3v5h-3zM922 311h3v5h-3zM926 297h3v17h-3zM934 299h3v12h-3zM942 329h3v1h-3zM950 346h3v7h-3zM954 339h3v18h-3zM958 320h3v10h-3zM962 264h3v57h-3zM970 273h3v1h-3zM974 257h3v17h-3zM978 103h3v101h-3zM982 99h3v5h-3zM994 89h3v4h-3zM998 85h3v8h-3zM1014 169h3v17h-3zM1018 150h3v8h-3zM1022 136h3v13h-3zM1030 131h3v6h-3zM1046 152h3v11h-3zM1058 148h3v28h-3zM1062 148h3v1h-3zM1070 157h3v10h-3zM1074 110h3v42h-3zM1082 103h3v13h-3zM1094 110h3v12h-3zM1102 150h3v1h-3zM1110 145h3v1h-3zM1118 134h3v33h-3zM1134 120h3v10h-3zM1142 136h3v8h-3zM1146 124h3v6h-3zM1150 96h3v28h-3zM1154 92h3v24h-3zM1166 99h3v17h-3zM1174 120h3v19h-3zM1182 155h3v3h-3zM1194 194h3v24h-3zM1198 166h3v25h-3zM1218 376h3v1h-3zM1226 371h3v24h-3zM1234 390h3v5h-3zM1245 408h3v1h-3zM1253 390h3v15h-3zM1257 378h3v13h-3zM1265 335h3v56h-3zM1281 360h3v8h-3zM1289 381h3v3h-3zM1297 341h3v47h-3zM1305 343h3v20h-3zM1313 343h3v15h-3zM1317 339h3v10h-3zM1321 318h3v17h-3zM1325 287h3v15h-3zM1329 280h3v4h-3zM1333 231h3v28h-3zM1337 206h3v28h-3zM1361 250h3v1h-3zM1365 264h3v1h-3zM1369 255h3v12h-3zM1373 252h3v8h-3z"/><path fill="#eb4d5c" d="M25 227h3v81h-3zM29 320h3v36h-3zM41 367h3v34h-3zM53 425h3v11h-3zM57 390h3v11h-3zM61 401h3v12h-3zM73 436h3v25h-3zM81 413h3v23h-3zM100 390h3v23h-3zM124 588h3v12h-3zM128 588h3v47h-3zM148 623h3v46h-3zM156 635h3v12h-3zM168 611h3v12h-3zM204 635h3v12h-3zM208 647h3v35h-3zM212 693h3v23h-3zM216 716h3v15h-3zM220 730h3v5h-3zM228 699h3v4h-3zM232 675h3v19h-3zM240 697h3v14h-3zM248 711h3v1h-3zM256 697h3v6h-3zM272 679h3v15h-3zM284 678h3v4h-3zM288 672h3v3h-3zM304 613h3v4h-3zM312 609h3v15h-3zM316 627h3v29h-3zM320 655h3v11h-3zM336 618h3v15h-3zM344 627h3v6h-3zM356 602h3v8h-3zM360 602h3v2h-3zM364 599h3v3h-3zM368 604h3v10h-3zM376 609h3v15h-3zM380 618h3v6h-3zM388 599h3v5h-3zM400 588h3v3h-3zM416 538h3v30h-3zM440 492h3v6h-3zM448 497h3v31h-3zM452 527h3v22h-3zM456 530h3v38h-3zM468 520h3v38h-3zM475 548h3v9h-3zM479 556h3v7h-3zM511 471h3v35h-3zM515 492h3v11h-3zM527 467h3v8h-3zM539 464h3v20h-3zM551 469h3v8h-3zM563 464h3v4h-3zM571 474h3v17h-3zM583 436h3v24h-3zM587 432h3v28h-3zM595 394h3v8h-3zM599 404h3v9h-3zM607 394h3v12h-3zM611 381h3v47h-3zM619 413h3v6h-3zM627 408h3v4h-3zM631 411h3v3h-3zM643 385h3v6h-3zM655 376h3v19h-3zM659 394h3v14h-3zM671 422h3v8h-3zM675 436h3v34h-3zM683 460h3v29h-3zM699 450h3v5h-3zM703 457h3v8h-3zM707 450h3v25h-3zM711 476h3v6h-3zM715 474h3v9h-3zM751 455h3v6h-3zM763 432h3v23h-3zM771 436h3v14h-3zM811 413h3v20h-3zM819 408h3v34h-3zM827 460h3v10h-3zM851 446h3v23h-3zM866 399h3v23h-3zM870 422h3v8h-3zM878 415h3v17h-3zM882 427h3v24h-3zM910 350h3v20h-3zM930 306h3v6h-3zM938 315h3v11h-3zM946 339h3v10h-3zM966 262h3v14h-3zM986 71h3v3h-3zM990 68h3v18h-3zM1002 36h3v60h-3zM1006 96h3v34h-3zM1010 131h3v50h-3zM1026 120h3v18h-3zM1034 124h3v11h-3zM1038 134h3v4h-3zM1042 129h3v38h-3zM1050 143h3v28h-3zM1054 171h3v10h-3zM1066 138h3v24h-3zM1078 96h3v29h-3zM1086 106h3v10h-3zM1090 110h3v8h-3zM1098 113h3v39h-3zM1106 124h3v22h-3zM1114 143h3v24h-3zM1122 129h3v2h-3zM1126 131h3v11h-3zM1130 120h3v15h-3zM1138 110h3v22h-3zM1158 87h3v15h-3zM1162 101h3v15h-3zM1170 101h3v38h-3zM1178 129h3v28h-3zM1186 171h3v15h-3zM1190 190h3v17h-3zM1202 166h3v43h-3zM1206 211h3v17h-3zM1210 231h3v77h-3zM1214 308h3v70h-3zM1222 374h3v31h-3zM1230 369h3v22h-3zM1238 390h3v12h-3zM1242 399h3v10h-3zM1249 399h3v10h-3zM1261 381h3v18h-3zM1269 301h3v34h-3zM1273 339h3v19h-3zM1277 362h3v6h-3zM1285 353h3v33h-3zM1293 385h3v3h-3zM1301 315h3v43h-3zM1309 325h3v29h-3zM1341 180h3v14h-3zM1345 192h3v14h-3zM1349 194h3v24h-3zM1353 222h3v8h-3zM1357 245h3v6h-3zM1377 250h3v10h-3z"/></g>
<line x1="0" y1="259.5" x2="1464.4" y2="259.5" stroke="#eb4d5c" stroke-width="1" stroke-dasharray="2 1 1 1 4 1 1 1" opacity="0.6" shape-rendering="crispEdges"/>
<text x="174" y="471.4" class="ann" textLength="154.8" lengthAdjust="spacingAndGlyphs">Trend aus 2014</text>
<text x="652.8" y="296.6" class="ann" textLength="155.2" lengthAdjust="spacingAndGlyphs">Trend aus 2008</text>
<circle cx="331.0" cy="791.4" r="12.3" fill="#fff" stroke="#f0909b" stroke-width="1.6"/>
<text x="331.6" y="796.0" class="em" text-anchor="middle" textLength="6.6" lengthAdjust="spacingAndGlyphs">E</text>
<circle cx="830.1" cy="791.4" r="12.3" fill="#fff" stroke="#f0909b" stroke-width="1.6"/>
<text x="830.7" y="796.0" class="em" text-anchor="middle" textLength="6.6" lengthAdjust="spacingAndGlyphs">E</text>
<rect x="1465.4" y="0" width="32.59999999999991" height="826" fill="#fff"/>
<rect x="0" y="808.5" width="1497" height="18.5" fill="#fff"/>
<line x1="1464.2" y1="0" x2="1464.2" y2="806" stroke="#9a9a9a" stroke-width="1.7"/>
<line x1="0" y1="808" x2="1464.5" y2="808" stroke="#a0a0a0" stroke-width="2" stroke-linecap="round"/>
<line x1="1464.4" y1="762.5" x2="1468.0" y2="762.5" stroke="#555" stroke-width="1"/>
<text x="1471" y="767.20" class="yl">0.80</text>
<line x1="1464.4" y1="716.5" x2="1468.0" y2="716.5" stroke="#555" stroke-width="1"/>
<text x="1471" y="720.62" class="yl">0.90</text>
<line x1="1464.4" y1="669.5" x2="1468.0" y2="669.5" stroke="#555" stroke-width="1"/>
<text x="1471" y="674.05" class="yl">1.00</text>
<line x1="1464.4" y1="623.5" x2="1468.0" y2="623.5" stroke="#555" stroke-width="1"/>
<text x="1471" y="627.47" class="yl">1.10</text>
<line x1="1464.4" y1="576.5" x2="1468.0" y2="576.5" stroke="#555" stroke-width="1"/>
<text x="1471" y="580.90" class="yl">1.20</text>
<line x1="1464.4" y1="530.5" x2="1468.0" y2="530.5" stroke="#555" stroke-width="1"/>
<text x="1471" y="534.32" class="yl">1.30</text>
<line x1="1464.4" y1="483.5" x2="1468.0" y2="483.5" stroke="#555" stroke-width="1"/>
<text x="1471" y="487.75" class="yl">1.40</text>
<line x1="1464.4" y1="436.5" x2="1468.0" y2="436.5" stroke="#555" stroke-width="1"/>
<text x="1471" y="441.17" class="yl">1.50</text>
<line x1="1464.4" y1="390.5" x2="1468.0" y2="390.5" stroke="#555" stroke-width="1"/>
<text x="1471" y="394.60" class="yl">1.60</text>
<line x1="1464.4" y1="343.5" x2="1468.0" y2="343.5" stroke="#555" stroke-width="1"/>
<text x="1471" y="348.02" class="yl">1.70</text>
<line x1="1464.4" y1="297.5" x2="1468.0" y2="297.5" stroke="#555" stroke-width="1"/>
<text x="1471" y="301.45" class="yl">1.80</text>
<line x1="1464.4" y1="250.5" x2="1468.0" y2="250.5" stroke="#555" stroke-width="1"/>
<text x="1471" y="254.88" class="yl">1.90</text>
<line x1="1464.4" y1="203.5" x2="1468.0" y2="203.5" stroke="#555" stroke-width="1"/>
<text x="1471" y="208.30" class="yl">2.00</text>
<line x1="1464.4" y1="157.5" x2="1468.0" y2="157.5" stroke="#555" stroke-width="1"/>
<text x="1471" y="161.72" class="yl">2.10</text>
<line x1="1464.4" y1="110.5" x2="1468.0" y2="110.5" stroke="#555" stroke-width="1"/>
<text x="1471" y="115.15" class="yl">2.20</text>
<line x1="1464.4" y1="64.5" x2="1468.0" y2="64.5" stroke="#555" stroke-width="1"/>
<text x="1471" y="68.58" class="yl">2.30</text>
<line x1="1464.4" y1="17.5" x2="1468.0" y2="17.5" stroke="#555" stroke-width="1"/>
<text x="1471" y="22.00" class="yl">2.40</text>
<line x1="47.5" y1="807.5" x2="47.5" y2="811.3" stroke="#555" stroke-width="1"/>
<text x="47.5" y="822.5" class="xl" text-anchor="middle">17:30</text>
<line x1="123.5" y1="807.5" x2="123.5" y2="811.3" stroke="#555" stroke-width="1"/>
<text x="123.5" y="822.5" class="xl b" text-anchor="middle">Mai</text>
<line x1="198.5" y1="807.5" x2="198.5" y2="811.3" stroke="#555" stroke-width="1"/>
<text x="198.5" y="822.5" class="xl" text-anchor="middle">15</text>
<line x1="290.5" y1="807.5" x2="290.5" y2="811.3" stroke="#555" stroke-width="1"/>
<text x="290.5" y="822.5" class="xl b" text-anchor="middle">Jun</text>
<line x1="386.5" y1="807.5" x2="386.5" y2="811.3" stroke="#555" stroke-width="1"/>
<text x="386.5" y="822.5" class="xl" text-anchor="middle">19</text>
<line x1="466.5" y1="807.5" x2="466.5" y2="811.3" stroke="#555" stroke-width="1"/>
<text x="466.5" y="822.5" class="xl b" text-anchor="middle">Jul</text>
<line x1="541.5" y1="807.5" x2="541.5" y2="811.3" stroke="#555" stroke-width="1"/>
<text x="541.5" y="822.5" class="xl" text-anchor="middle">18</text>
<line x1="621.5" y1="807.5" x2="621.5" y2="811.3" stroke="#555" stroke-width="1"/>
<text x="621.5" y="822.5" class="xl b" text-anchor="middle">Aug</text>
<line x1="701.5" y1="807.5" x2="701.5" y2="811.3" stroke="#555" stroke-width="1"/>
<text x="701.5" y="822.5" class="xl" text-anchor="middle">15</text>
<line x1="805.5" y1="807.5" x2="805.5" y2="811.3" stroke="#555" stroke-width="1"/>
<text x="805.5" y="822.5" class="xl b" text-anchor="middle">Sep</text>
<line x1="884.5" y1="807.5" x2="884.5" y2="811.3" stroke="#555" stroke-width="1"/>
<text x="884.5" y="822.5" class="xl" text-anchor="middle">18</text>
<line x1="964.5" y1="807.5" x2="964.5" y2="811.3" stroke="#555" stroke-width="1"/>
<text x="964.5" y="822.5" class="xl b" text-anchor="middle">Okt</text>
<line x1="1044.5" y1="807.5" x2="1044.5" y2="811.3" stroke="#555" stroke-width="1"/>
<text x="1044.5" y="822.5" class="xl" text-anchor="middle">16</text>
<line x1="1140.5" y1="807.5" x2="1140.5" y2="811.3" stroke="#555" stroke-width="1"/>
<text x="1140.5" y="822.5" class="xl b" text-anchor="middle">Nov</text>
<line x1="1219.5" y1="807.5" x2="1219.5" y2="811.3" stroke="#555" stroke-width="1"/>
<text x="1219.5" y="822.5" class="xl" text-anchor="middle">15</text>
<line x1="1303.5" y1="807.5" x2="1303.5" y2="811.3" stroke="#555" stroke-width="1"/>
<text x="1303.5" y="822.5" class="xl b" text-anchor="middle">Dez</text>
<line x1="1391.5" y1="807.5" x2="1391.5" y2="811.3" stroke="#555" stroke-width="1"/>
<text x="1391.5" y="822.5" class="xl" text-anchor="middle">18</text>
<rect x="1463.5" y="251.3" width="32.5" height="16.3" fill="#eb4d5c"/>
<text x="1471" y="263.3" class="pl">1.88</text>
</svg></body></html>
